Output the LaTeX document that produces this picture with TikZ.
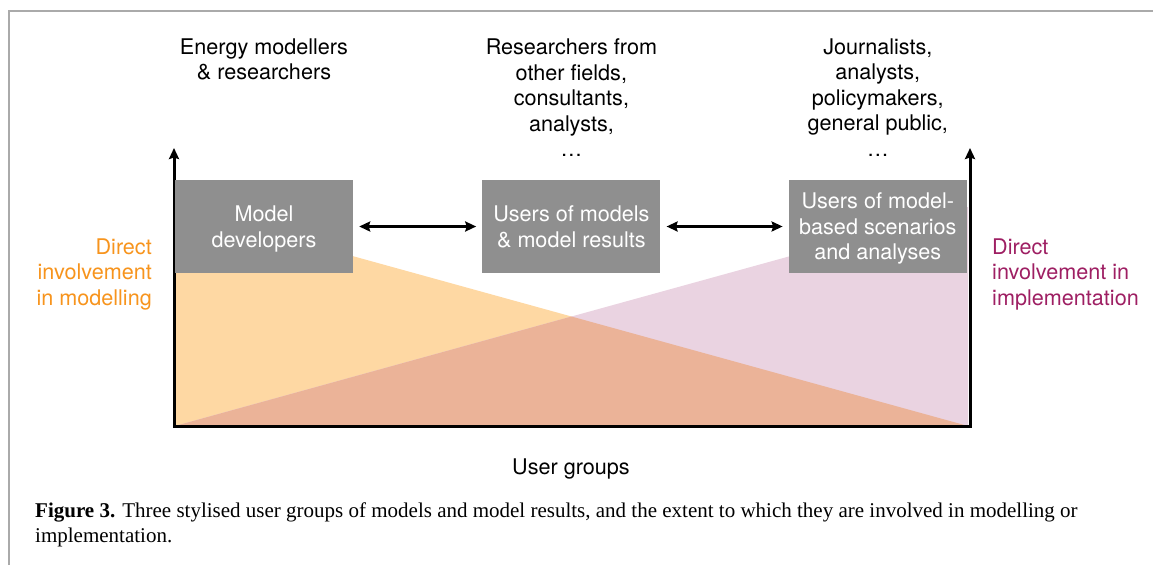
\documentclass[tikz,border=0pt]{standalone}
\usepackage{fontspec}
\setmainfont{TeX Gyre Heros}
\newfontfamily\capfont{Liberation Serif}
\usetikzlibrary{shapes, arrows.meta, positioning}
\definecolor{boxgray}{HTML}{8F8F8F}
\definecolor{framegray}{HTML}{AAAAAA}
\definecolor{orangefill}{HTML}{FED8A3}
\definecolor{pinkfill}{HTML}{EAD3E1}
\definecolor{overlapfill}{HTML}{EBB398}
\definecolor{orangetxt}{HTML}{F7941D}
\definecolor{magtxt}{HTML}{9E1F63}

\begin{document}
\begin{tikzpicture}[x=1pt,y=-1pt]
    \tikzstyle{txt} = [inner sep=0pt, font=\fontsize{21.6}{25.5}\selectfont]
    \tikzstyle{grp} = [txt, align=center, anchor=north]
    \tikzstyle{box} = [txt, rectangle, fill=boxgray, text=white, minimum width=178pt, minimum height=93pt, text depth=-6pt, align=center]
    \tikzstyle{arrow} = [line width=3pt,<->,>={Stealth[length=11pt,width=10pt,inset=1.5pt]}]
    \useasboundingbox (0,0) rectangle (1153,565);
    \draw[framegray, line width=1.2pt] (9,565) -- (9,11) -- (1153,11);
    % shares of involvement
    \fill[orangefill] (175,207) -- (968,426) -- (175,426) -- cycle;
    \fill[pinkfill] (968,207) -- (968,426) -- (175,426) -- cycle;
    \fill[overlapfill] (175,426) -- (571.5,316.5) -- (968,426) -- cycle;
    % axes
    \coordinate (ytop) at (174,148);
    \coordinate (o) at (174,426);
    \coordinate (xend) at (970,426);
    \coordinate (y2top) at (970,148);
    \draw[arrow] (ytop) -- (o) -- (xend) -- (y2top);
        \node (md) [box] at (264,226.5) {Model\\developers};
        \node (um) [box, right=129pt of md] {Users of models\\\& model results};
        \node (us) [box, right=128pt of um] {Users of model-\\based scenarios\\and analyses};
        \coordinate (topline) at (0,38.5);
        \node (g1) [grp] at (md |- topline) {Energy modellers\\\& researchers};
        \node (g2) [grp] at (um |- topline) {Researchers from\\other fields,\\consultants,\\analysts,\\\dots};
        \node (g3) [grp] at (us |- topline) {Journalists,\\analysts,\\policymakers,\\general public,\\\dots};
        \node (dm) [txt, anchor=north east, align=right, text=orangetxt] at (152,238.5) {Direct\\involvement\\in modelling};
        \node (di) [txt, anchor=north west, align=left, text=magtxt] at (992,238.5) {Direct\\involvement in\\implementation};
        \node (ug) [txt] at (571,469) {User groups};
        \draw[arrow, shorten <=6pt, shorten >=6pt] (md) -- (um);
        \draw[arrow, shorten <=6pt, shorten >=6pt] (um) -- (us);
        \node (cap) [anchor=north west, inner sep=0pt, align=left, font=\capfont\fontsize{21}{25}\selectfont] at (35,502.5) {\textbf{Figure 3.} Three stylised user groups of models and model results, and the extent to which they are involved in modelling or\\implementation.};
\end{tikzpicture}
\end{document}
